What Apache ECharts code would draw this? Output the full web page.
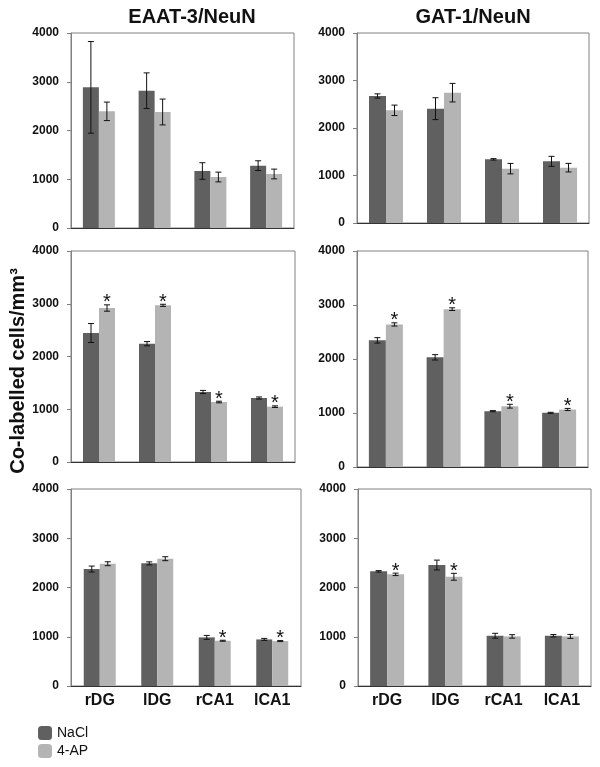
<!DOCTYPE html>
<html>
<head>
<meta charset="utf-8">
<script src="https://cdn.jsdelivr.net/npm/echarts@6/dist/echarts.min.js"></script>
<style>html,body{margin:0;padding:0;background:#fff;}#c{width:600px;height:767px;}</style>
</head>
<body>
<div id="c"></div>
<script>
var categories = ['rDG', 'lDG', 'rCA1', 'lCA1'];
var yTicks = [0, 1000, 2000, 3000, 4000];
var seriesNames = ['NaCl', '4-AP'];

// EAAT-3/NeuN, top row
var eaatTopNaCl = [2885, 2817, 1169, 1279];
var eaatTopNaClErr = [940, 365, 170, 100];
var eaatTopAP = [2393, 2380, 1046, 1108];
var eaatTopAPErr = [190, 265, 100, 100];
var eaatTopSig = [0, 0, 0, 0];
// GAT-1/NeuN, top row
var gatTopNaCl = [2674, 2407, 1340, 1298];
var gatTopNaClErr = [45, 230, 15, 105];
var gatTopAP = [2372, 2744, 1144, 1165];
var gatTopAPErr = [110, 195, 110, 90];
var gatTopSig = [0, 0, 0, 0];
// EAAT-3/NeuN, middle row
var eaatMidNaCl = [2445, 2243, 1327, 1213];
var eaatMidNaClErr = [180, 40, 30, 20];
var eaatMidAP = [2919, 2970, 1137, 1049];
var eaatMidAPErr = [60, 20, 15, 15];
var eaatMidSig = [1, 1, 1, 1];
// GAT-1/NeuN, middle row
var gatMidNaCl = [2345, 2031, 1034, 1003];
var gatMidNaClErr = [50, 50, 10, 10];
var gatMidAP = [2640, 2923, 1126, 1065];
var gatMidAPErr = [30, 25, 35, 20];
var gatMidSig = [1, 1, 1, 1];
// EAAT-3/NeuN, bottom row
var eaatBotNaCl = [2375, 2490, 987, 946];
var eaatBotNaClErr = [60, 30, 40, 20];
var eaatBotAP = [2483, 2585, 919, 912];
var eaatBotAPErr = [40, 40, 10, 10];
var eaatBotSig = [0, 0, 1, 1];
// GAT-1/NeuN, bottom row
var gatBotNaCl = [2328, 2456, 1020, 1020];
var gatBotNaClErr = [15, 100, 50, 25];
var gatBotAP = [2267, 2218, 1007, 1007];
var gatBotAPErr = [25, 70, 35, 40];
var gatBotSig = [1, 1, 0, 0];

var panels = [
  {n: eaatTopNaCl, ne: eaatTopNaClErr, a: eaatTopAP, ae: eaatTopAPErr, s: eaatTopSig},
  {n: gatTopNaCl, ne: gatTopNaClErr, a: gatTopAP, ae: gatTopAPErr, s: gatTopSig},
  {n: eaatMidNaCl, ne: eaatMidNaClErr, a: eaatMidAP, ae: eaatMidAPErr, s: eaatMidSig},
  {n: gatMidNaCl, ne: gatMidNaClErr, a: gatMidAP, ae: gatMidAPErr, s: gatMidSig},
  {n: eaatBotNaCl, ne: eaatBotNaClErr, a: eaatBotAP, ae: eaatBotAPErr, s: eaatBotSig},
  {n: gatBotNaCl, ne: gatBotNaClErr, a: gatBotAP, ae: gatBotAPErr, s: gatBotSig}
];

var layout = [
  {left: 71, top: 33, width: 223, height: 195, bw: 16, lm: 12},
  {left: 357, top: 33, width: 232, height: 190, bw: 17, lm: 12},
  {left: 71, top: 251, width: 224, height: 211, bw: 16, lm: 12},
  {left: 357, top: 251, width: 231, height: 216, bw: 17, lm: 12},
  {left: 71, top: 489, width: 230, height: 197, bw: 16, lm: 12},
  {left: 358, top: 489, width: 233, height: 197, bw: 17, lm: 12}
];

var FONT = '"Liberation Sans", Arial, sans-serif';
var DARK = '#606060', LIGHT = '#b4b4b4';

var grids = [], xAxes = [], yAxes = [], series = [];
layout.forEach(function (L, i) {
  grids.push({left: L.left, top: L.top, width: L.width, height: L.height, show: true,
    borderColor: '#808080', borderWidth: 1, containLabel: false});
  xAxes.push({type: 'category', gridIndex: i, data: categories,
    axisLine: {show: true, lineStyle: {color: '#333', width: 1}},
    axisTick: {show: false},
    axisLabel: {show: i >= 4, fontFamily: FONT, fontSize: 16, fontWeight: 'bold', color: '#111', margin: 7}});
  yAxes.push({type: 'value', gridIndex: i, min: 0, max: 4000, interval: 1000,
    axisLine: {show: true, lineStyle: {color: '#808080', width: 1}},
    axisTick: {show: true, inside: false, length: 4, lineStyle: {color: '#808080'}},
    splitLine: {show: false},
    axisLabel: {fontFamily: FONT, fontSize: 12, fontWeight: 'bold', color: '#111', margin: L.lm,
      formatter: function (v) { return yTicks.indexOf(v) >= 0 ? String(v) : ''; }}});
  var P = panels[i];
  series.push({name: seriesNames[0], type: 'bar', xAxisIndex: i, yAxisIndex: i, data: P.n,
    barWidth: L.bw, barGap: '0%', itemStyle: {color: DARK}});
  series.push({name: seriesNames[1], type: 'bar', xAxisIndex: i, yAxisIndex: i, data: P.a,
    barWidth: L.bw, barGap: '0%', itemStyle: {color: LIGHT}});
  var ed = [];
  for (var k = 0; k < categories.length; k++) {
    ed.push([k, P.n[k], P.ne[k], 0, -1]);
    ed.push([k, P.a[k], P.ae[k], P.s[k], 1]);
  }
  (function (bw) {
    series.push({type: 'custom', xAxisIndex: i, yAxisIndex: i, data: ed, z: 10, silent: true,
      renderItem: function (params, api) {
        var c = api.value(0), v = api.value(1), e = api.value(2), sig = api.value(3), side = api.value(4);
        var top = api.coord([c, v + e]);
        var bot = api.coord([c, v - e]);
        var x = top[0] + side * bw / 2;
        var cap = 3;
        var st = {stroke: '#111', lineWidth: 1};
        var children = [
          {type: 'line', shape: {x1: x, y1: top[1], x2: x, y2: bot[1]}, style: st},
          {type: 'line', shape: {x1: x - cap, y1: top[1], x2: x + cap, y2: top[1]}, style: st},
          {type: 'line', shape: {x1: x - cap, y1: bot[1], x2: x + cap, y2: bot[1]}, style: st}
        ];
        if (sig) {
          children.push({type: 'text', x: x, y: top[1] - 2,
            style: {text: '*', fontSize: 20, fontFamily: FONT, fill: '#111', align: 'center', verticalAlign: 'middle'}});
        }
        return {type: 'group', children: children};
      }});
  })(L.bw);
});

var chart = echarts.init(document.getElementById('c'), null, {renderer: 'canvas'});
chart.setOption({
  backgroundColor: '#fff',
  animation: false,
  title: [
    {text: 'EAAT-3/NeuN', left: 187, top: 2, textAlign: 'center',
      textStyle: {fontFamily: FONT, fontSize: 20, fontWeight: 'bold', color: '#111'}},
    {text: 'GAT-1/NeuN', left: 468, top: 2, textAlign: 'center',
      textStyle: {fontFamily: FONT, fontSize: 20, fontWeight: 'bold', color: '#111'}}
  ],
  legend: {data: seriesNames, orient: 'vertical', left: 38, top: 726, padding: 0, itemWidth: 14, itemHeight: 14,
    itemGap: 4, icon: 'roundRect', textStyle: {fontFamily: FONT, fontSize: 14, color: '#111'}},
  graphic: [{type: 'text', x: 18, y: 371, rotation: Math.PI / 2,
    style: {text: 'Co-labelled cells/mm³', fontFamily: FONT, fontSize: 20, fontWeight: 'bold', fill: '#111',
      align: 'center', verticalAlign: 'middle'}}],
  grid: grids, xAxis: xAxes, yAxis: yAxes, series: series
});
</script>
</body>
</html>
